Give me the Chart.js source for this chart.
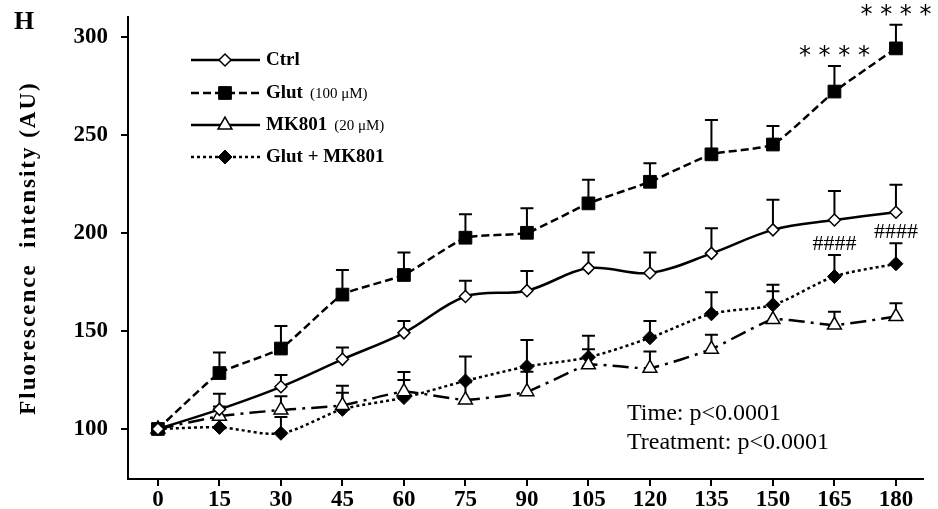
<!DOCTYPE html>
<html><head><meta charset="utf-8">
<script src="https://cdn.jsdelivr.net/npm/chart.js@4.4.1/dist/chart.umd.min.js"></script>
<style>html,body{margin:0;padding:0;background:#fff;} #wrap{width:938px;height:509px;position:relative;}</style>
</head><body><div id="wrap"><canvas id="c" width="938" height="509"></canvas></div>
<script>
// ---- data ----
const times = [0, 15, 30, 45, 60, 75, 90, 105, 120, 135, 150, 165, 180];
const yTicks = [100, 150, 200, 250, 300];
const seriesNames = ['Ctrl', 'Glut', 'MK801', 'Glut + MK801'];
const seriesNotes = ['', '(100 μM)', '(20 μM)', ''];
const ctrl      = [100, 110, 121.5, 135.5, 149, 167.5, 170.5, 182, 179.5, 189.5, 201.5, 206.5, 210.5];
const ctrlErr   = [0, 8, 6, 6, 6, 8, 10, 8, 10.5, 12.8, 15.3, 14.8, 14];
const glut      = [100, 128.5, 141, 168.5, 178.5, 197.5, 200, 215, 226, 240, 245, 272, 294];
const glutErr   = [0, 10.5, 11.5, 12.5, 11.5, 12, 12.5, 12, 9.5, 17.5, 9.5, 13, 12];
const mk801     = [100, 106.5, 109.7, 112, 119, 114.8, 119, 132.7, 131, 140.7, 155.8, 153, 157.3];
const mk801Err  = [0, 5, 7, 10, 6, 9, 10.2, 8, 8.5, 7.3, 14.4, 6.8, 6.8];
const glutMk    = [100, 100.8, 97.8, 110, 116, 124.5, 131.8, 136.6, 146.5, 158.7, 163.3, 177.7, 184.2];
const glutMkErr = [0, 4, 8.3, 8.5, 13, 12.4, 13.6, 10.9, 8.5, 11, 10.2, 11, 10.5];
const starMarks = [{series: 1, at: 165, text: '* * * *'}, {series: 1, at: 180, text: '* * * *'}];
const hashMarks = [{series: 3, at: 165, text: '####'}, {series: 3, at: 180, text: '####'}];
const statLines = ['Time: p<0.0001', 'Treatment: p<0.0001'];
const panelLabel = 'H';
const yTitle = 'Fluorescence  intensity (AU)';

const SERIF = '"Liberation Serif", "Times New Roman", serif';
const SANS = '"DejaVu Sans", sans-serif';

const pts = arr => arr.map((v, i) => ({x: times[i], y: v}));

const datasets = [
  {label: seriesNames[0], data: pts(ctrl), errors: ctrlErr, borderColor: '#000', borderWidth: 2.5, borderDash: [],
   tension: 0.35, pointStyle: 'rectRot', pointRadius: 6, pointBackgroundColor: '#fff', pointBorderColor: '#000', pointBorderWidth: 1.5},
  {label: seriesNames[1], data: pts(glut), errors: glutErr, borderColor: '#000', borderWidth: 2.5, borderDash: [8, 4],
   tension: 0.15, pointStyle: 'rect', pointRadius: 9, pointBackgroundColor: '#000', pointBorderColor: '#000', pointBorderWidth: 1},
  {label: seriesNames[2], data: pts(mk801), errors: mk801Err, borderColor: '#000', borderWidth: 2.5, borderDash: [16, 6, 3, 6],
   tension: 0.15, pointStyle: 'triangle', pointRadius: 8, pointBackgroundColor: '#fff', pointBorderColor: '#000', pointBorderWidth: 1.5},
  {label: seriesNames[3], data: pts(glutMk), errors: glutMkErr, borderColor: '#000', borderWidth: 2.5, borderDash: [3, 3],
   tension: 0.3, pointStyle: 'rectRot', pointRadius: 7, pointBackgroundColor: '#000', pointBorderColor: '#000', pointBorderWidth: 1}
];

const errorBars = {
  id: 'errorBars',
  beforeDatasetsDraw(chart) {
    const {ctx, scales: {x, y}} = chart;
    ctx.save();
    ctx.strokeStyle = '#000'; ctx.lineWidth = 2; ctx.setLineDash([]);
    chart.data.datasets.forEach(ds => {
      ds.data.forEach((p, j) => {
        const e = ds.errors[j];
        if (!e) return;
        const px = x.getPixelForValue(p.x);
        const p0 = y.getPixelForValue(p.y), p1 = y.getPixelForValue(p.y + e);
        ctx.beginPath();
        ctx.moveTo(px, p0); ctx.lineTo(px, p1);
        ctx.moveTo(px - 6.5, p1); ctx.lineTo(px + 6.5, p1);
        ctx.stroke();
      });
    });
    ctx.restore();
  }
};

const extras = {
  id: 'extras',
  afterDraw(chart) {
    const {ctx, scales: {x, y}} = chart;
    const ds = chart.data.datasets;
    ctx.save();
    ctx.fillStyle = '#000';
    // panel label
    ctx.font = 'bold 26px ' + SERIF;
    ctx.textAlign = 'left'; ctx.textBaseline = 'middle';
    ctx.fillText(panelLabel, 14, 22);
    // y title
    ctx.save();
    ctx.translate(29, (chart.chartArea.top + chart.chartArea.bottom) / 2);
    ctx.rotate(-Math.PI / 2);
    ctx.font = 'bold 23px ' + SERIF;
    ctx.letterSpacing = '2px';
    ctx.textAlign = 'center'; ctx.textBaseline = 'middle';
    ctx.fillText(yTitle, 0, 0);
    ctx.restore();
    // significance marks
    const markAt = (m, font, off) => {
      const d = ds[m.series];
      const j = times.indexOf(m.at);
      const top = d.data[j].y + d.errors[j];
      ctx.font = font; ctx.textAlign = 'center'; ctx.textBaseline = 'middle';
      ctx.fillText(m.text, x.getPixelForValue(m.at), y.getPixelForValue(top) - off);
    };
    starMarks.forEach(m => markAt(m, '24px ' + SANS, 9));
    hashMarks.forEach(m => markAt(m, '22px ' + SERIF, 11));
    // stats text
    ctx.font = '24px ' + SERIF; ctx.textAlign = 'left'; ctx.textBaseline = 'middle';
    ctx.fillText(statLines[0], 627, 414);
    ctx.fillText(statLines[1], 627, 443);
    // legend
    const lx0 = 191, lx1 = 260, mx = 225, tx = 266;
    const ly = [60, 93, 125, 157];
    ds.forEach((d, i) => {
      ctx.strokeStyle = '#000'; ctx.lineWidth = 2.5;
      ctx.setLineDash(i === 2 ? [] : d.borderDash);
      ctx.beginPath(); ctx.moveTo(lx0, ly[i]); ctx.lineTo(lx1, ly[i]); ctx.stroke();
      ctx.setLineDash([]);
      ctx.fillStyle = d.pointBackgroundColor; ctx.strokeStyle = d.pointBorderColor;
      ctx.lineWidth = d.pointBorderWidth;
      Chart.helpers.drawPoint(ctx, {pointStyle: d.pointStyle, radius: d.pointRadius, borderWidth: d.pointBorderWidth, rotation: 0}, mx, ly[i]);
      ctx.fillStyle = '#000';
      ctx.font = 'bold 19px ' + SERIF; ctx.textAlign = 'left'; ctx.textBaseline = 'middle';
      ctx.fillText(d.label, tx, ly[i]);
      if (seriesNotes[i]) {
        const w = ctx.measureText(d.label).width + 7;
        ctx.font = '15px ' + SERIF;
        ctx.fillText(seriesNotes[i], tx + w, ly[i] + 1);
      }
    });
    ctx.restore();
  }
};

new Chart(document.getElementById('c'), {
  type: 'line',
  data: {datasets},
  plugins: [errorBars, extras],
  options: {
    responsive: false,
    animation: false,
    events: [],
    layout: {padding: {left: 0, right: 15, top: 17, bottom: 0}},
    plugins: {legend: {display: false}, tooltip: {enabled: false}},
    scales: {
      x: {
        type: 'linear', min: -7.3, max: 186.6,
        afterBuildTicks: s => { s.ticks = times.map(v => ({value: v})); },
        afterFit: s => { s.height = 30; s.paddingLeft = 0; s.paddingRight = 0; },
        grid: {drawOnChartArea: false, drawTicks: true, tickLength: 7, color: '#000', lineWidth: 2},
        border: {display: true, color: '#000', width: 2},
        ticks: {color: '#000', font: {family: SERIF, size: 23, weight: 'bold'}, padding: 0, maxRotation: 0, autoSkip: false}
      },
      y: {
        type: 'linear', min: 74.5, max: 310,
        afterBuildTicks: s => { s.ticks = yTicks.map(v => ({value: v})); },
        afterFit: s => { s.width = 128; s.paddingTop = 0; s.paddingBottom = 0; },
        grid: {drawOnChartArea: false, drawTicks: true, tickLength: 7, color: '#000', lineWidth: 2},
        border: {display: true, color: '#000', width: 2},
        ticks: {color: '#000', font: {family: SERIF, size: 23, weight: 'bold'}, padding: 13}
      }
    }
  }
});
</script>
</body></html>
